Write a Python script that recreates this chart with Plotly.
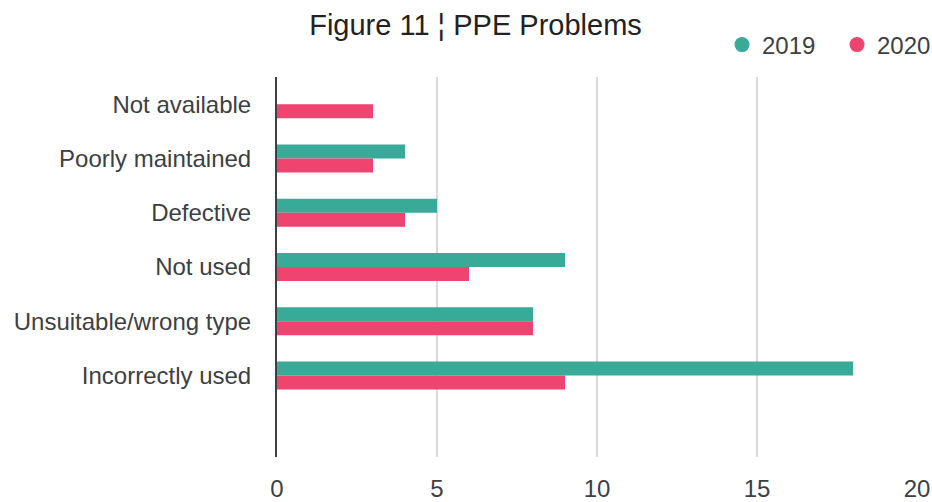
import plotly.graph_objects as go

categories = ["Not available", "Poorly maintained", "Defective", "Not used",
              "Unsuitable/wrong type", "Incorrectly used"]
values_2019 = [0, 4, 5, 9, 8, 18]
values_2020 = [3, 3, 4, 6, 8, 9]
x_ticks = [0, 5, 10, 15, 20]

TEAL = "#38aa97"
PINK = "#ef4470"
TEXT = "#3c4043"
FONT = "Liberation Sans, Arial, sans-serif"

W, H = 932, 502

fig = go.Figure()
fig.add_trace(go.Bar(y=categories, x=values_2019, orientation="h", name="2019",
                     marker=dict(color=TEAL, line=dict(width=0)), showlegend=False))
fig.add_trace(go.Bar(y=categories, x=values_2020, orientation="h", name="2020",
                     marker=dict(color=PINK, line=dict(width=0)), showlegend=False))
# legend entries with circle markers
fig.add_trace(go.Scatter(x=[None], y=[None], mode="markers", name="2019",
                         marker=dict(color=TEAL, size=15, symbol="circle")))
fig.add_trace(go.Scatter(x=[None], y=[None], mode="markers", name="2020",
                         marker=dict(color=PINK, size=15, symbol="circle")))

fig.update_layout(
    width=W, height=H,
    margin=dict(l=277, r=15, t=77, b=45, autoexpand=False),
    paper_bgcolor="white", plot_bgcolor="white",
    barmode="group", bargap=0.484, bargroupgap=0,
    font=dict(family=FONT, size=24, color=TEXT),
    title=dict(text="Figure 11 ¦ PPE Problems", x=475.5 / W, xref="container",
               xanchor="center", y=1 - 25 / H, yref="container", yanchor="middle",
               font=dict(family=FONT, size=29, color="#222222")),
    legend=dict(orientation="h", xref="container", yref="container",
                x=722 / W, xanchor="left", y=1 - 45 / H, yanchor="middle",
                font=dict(family=FONT, size=24, color=TEXT),
                entrywidth=70, traceorder="normal", bgcolor="rgba(0,0,0,0)"),
    xaxis=dict(range=[0, 20], tickvals=x_ticks, ticktext=[str(v) for v in x_ticks],
               showgrid=True, gridcolor="#d9d9d9", gridwidth=2,
               zeroline=False, showline=False, ticks="", automargin=False,
               ticklabelstandoff=15,
               tickfont=dict(family=FONT, size=24, color=TEXT)),
    yaxis=dict(type="category", categoryorder="array", categoryarray=categories,
               range=[6.5, -0.5], showgrid=False, zeroline=False,
               showline=True, linecolor="#3c4043", linewidth=2, ticks="",
               ticklabelstandoff=19, automargin=False,
               tickfont=dict(family=FONT, size=24, color=TEXT)),
)

# remove the default page margin so the figure fills the 932x502 window exactly
fig.write_html("out.html",
               config={"displayModeBar": False},
               post_script="document.body.style.margin='0px';"
                           "document.body.style.overflow='hidden';")
